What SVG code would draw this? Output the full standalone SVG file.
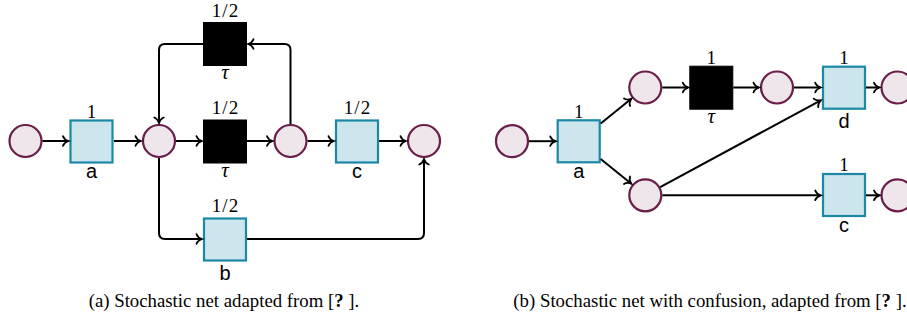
<svg xmlns="http://www.w3.org/2000/svg" width="907" height="320" viewBox="0 0 907 320">
  <defs>
    <marker id="arr" markerUnits="userSpaceOnUse" viewBox="-8 -7 10 14" refX="0" refY="0" markerWidth="10" markerHeight="14" orient="auto" overflow="visible">
      <path d="M-5.5,-4.8 C-4.6,-2.2 -1.8,-0.6 0,0 C-1.8,0.6 -4.6,2.2 -5.5,4.8" fill="none" stroke="#000" stroke-width="1.8" stroke-linecap="round"/>
    </marker>
  </defs>
  <style>
    .place { fill: #efe6ec; stroke: #6b1e4a; stroke-width: 2.2; }
    .trans { fill: #cde5ec; stroke: #1b88a6; stroke-width: 2.2; }
    .silent { fill: #000; stroke: #000; stroke-width: 1; }
    .edge { fill: none; stroke: #000; stroke-width: 2; marker-end: url(#arr); }
    .w { font-family: "Liberation Serif", "Times New Roman", serif; font-size: 19px; text-anchor: middle; fill: #000; }
    .half { letter-spacing: 1.2px; }
    .tau { font-family: "Liberation Serif", "Times New Roman", serif; font-style: italic; font-size: 21px; text-anchor: middle; fill: #000; }
    .lbl { font-family: "Liberation Sans", Arial, sans-serif; font-size: 20px; text-anchor: middle; fill: #000; }
    .cap { font-family: "Liberation Serif", "Times New Roman", serif; font-size: 18.8px; text-anchor: middle; fill: #000; }
  </style>

  <!-- (a) net -->
  <g id="a-p1"><circle class="place" cx="25.5" cy="141" r="16"/></g>
  <g id="a-ta">
    <rect class="trans" x="70.5" y="120.5" width="42" height="42"/>
    <text class="w" x="91.5" y="117.5">1</text>
    <text class="lbl" x="91.5" y="178">a</text>
  </g>
  <g id="a-p2"><circle class="place" cx="159" cy="141" r="16"/></g>
  <g id="a-tau1">
    <rect class="silent" x="203.5" y="120" width="43" height="43"/>
    <text class="w half" x="225.6" y="113.5">1/2</text>
    <text class="tau" x="225" y="176.5">τ</text>
  </g>
  <g id="a-tau2">
    <rect class="silent" x="203.5" y="22.5" width="43" height="43"/>
    <text class="w half" x="225.6" y="16.5">1/2</text>
    <text class="tau" x="225" y="79">τ</text>
  </g>
  <g id="a-p3"><circle class="place" cx="290.5" cy="141" r="16"/></g>
  <g id="a-tc">
    <rect class="trans" x="336" y="120.5" width="42" height="42"/>
    <text class="w half" x="357.6" y="113.5">1/2</text>
    <text class="lbl" x="357" y="178">c</text>
  </g>
  <g id="a-p4"><circle class="place" cx="424" cy="141" r="16"/></g>
  <g id="a-tb">
    <rect class="trans" x="204" y="218.5" width="42" height="42"/>
    <text class="w half" x="225.6" y="212">1/2</text>
    <text class="lbl" x="225" y="279.5">b</text>
  </g>

  <!-- (b) net -->
  <g id="b-p1"><circle class="place" cx="512" cy="141.2" r="16"/></g>
  <g id="b-ta">
    <rect class="trans" x="557.7" y="120.3" width="42" height="42"/>
    <text class="w" x="578.7" y="117.5">1</text>
    <text class="lbl" x="578.7" y="178">a</text>
  </g>
  <g id="b-pu"><circle class="place" cx="645.3" cy="87.5" r="16"/></g>
  <g id="b-pl"><circle class="place" cx="645.3" cy="195.3" r="16"/></g>
  <g id="b-tau">
    <rect class="silent" x="689.8" y="66.2" width="43" height="43"/>
    <text class="w" x="711.3" y="64">1</text>
    <text class="tau" x="711.3" y="123">τ</text>
  </g>
  <g id="b-pm"><circle class="place" cx="777" cy="87.5" r="16"/></g>
  <g id="b-td">
    <rect class="trans" x="823" y="66.7" width="42" height="42"/>
    <text class="w" x="844" y="64">1</text>
    <text class="lbl" x="844" y="128">d</text>
  </g>
  <g id="b-pd"><circle class="place" cx="897.5" cy="87.5" r="16"/></g>
  <g id="b-tc">
    <rect class="trans" x="823" y="174" width="42" height="42"/>
    <text class="w" x="844" y="171">1</text>
    <text class="lbl" x="844" y="232">c</text>
  </g>
  <g id="b-pc"><circle class="place" cx="897.5" cy="195.3" r="16"/></g>

  <!-- arcs -->
  <g id="connectors">
    <path class="edge" d="M42.5,141 H68.5"/>
    <path class="edge" d="M114,141 H141"/>
    <path class="edge" d="M176,141 H202"/>
    <path class="edge" d="M247,141 H272.5"/>
    <path class="edge" d="M307.5,141 H334"/>
    <path class="edge" d="M379,141 H406"/>
    <path class="edge" d="M290.5,124 V50 Q290.5,44 284.5,44 H248"/>
    <path class="edge" d="M203,44 H165 Q159,44 159,50 V123"/>
    <path class="edge" d="M159,158 V233 Q159,239 165,239 H202"/>
    <path class="edge" d="M247,239 H418 Q424,239 424,233 V159"/>

    <path class="edge" d="M529,141.2 H555.7"/>
    <path class="edge" d="M600.7,123.5 L631.3,98.8"/>
    <path class="edge" d="M600.7,159 L631.3,183.7"/>
    <path class="edge" d="M662.3,87.5 H688.3"/>
    <path class="edge" d="M733.3,87.5 H759"/>
    <path class="edge" d="M794,87.5 H820.7"/>
    <path class="edge" d="M866,87.5 H879.5"/>
    <path class="edge" d="M660.2,187.1 L820.8,100.3"/>
    <path class="edge" d="M662.3,195.3 H820.7"/>
    <path class="edge" d="M866,195.3 H879.5"/>
  </g>

  <!-- captions -->
  <text class="cap" x="224" y="307">(a) Stochastic net adapted from [<tspan font-weight="bold">?</tspan> ].</text>
  <text class="cap" x="710" y="307">(b) Stochastic net with confusion, adapted from [<tspan font-weight="bold">?</tspan> ].</text>
</svg>
